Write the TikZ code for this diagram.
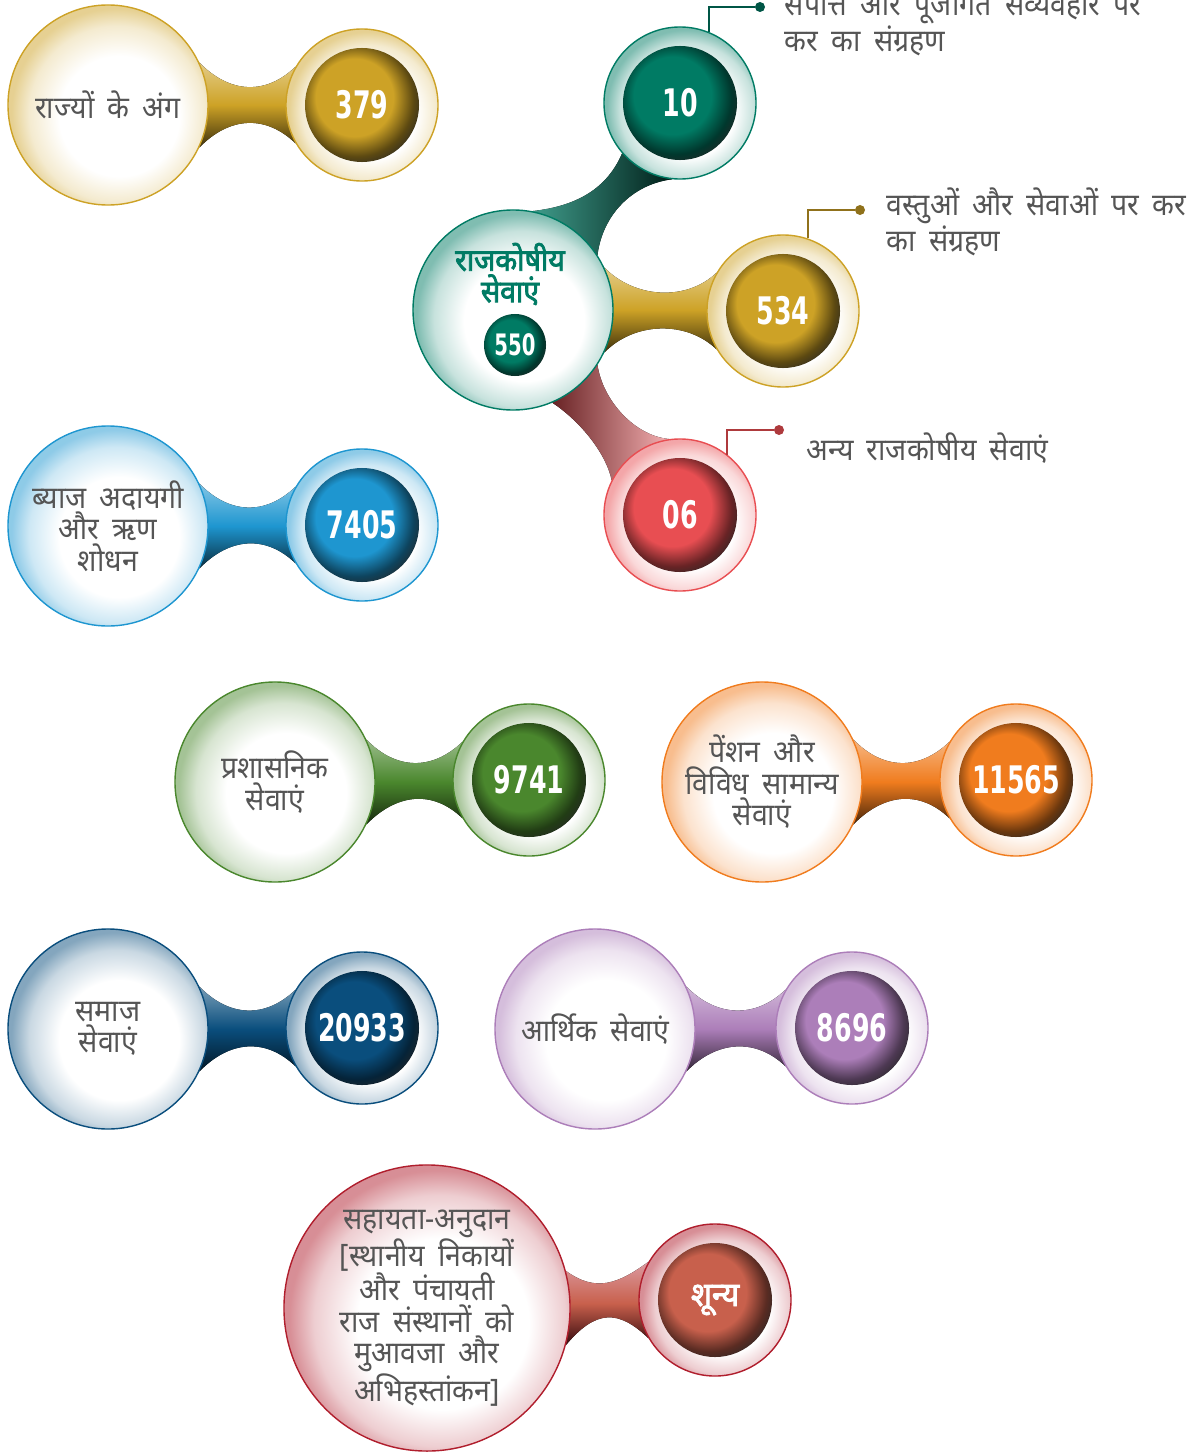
\documentclass[tikz,border=0pt]{standalone}
\usepackage{fontspec}
\usepackage{tikz}
\usetikzlibrary{calc,backgrounds}
\newfontfamily\hin[Script=Devanagari, FakeStretch=0.92, WordSpace=1.8, AutoFakeBold=2.5]{Noto Sans}
\newfontfamily\numfont[FakeStretch=0.74]{DejaVu Sans Condensed}
\definecolor{fgold}{RGB}{205,162,38}
\definecolor{fteal}{RGB}{0,123,100}
\definecolor{fred}{RGB}{232,78,82}
\definecolor{fblue}{RGB}{30,150,208}
\definecolor{fgreen}{RGB}{74,135,45}
\definecolor{forange}{RGB}{240,124,30}
\definecolor{fnavy}{RGB}{10,78,125}
\definecolor{fpurple}{RGB}{172,126,185}
\definecolor{fcrim}{RGB}{176,30,45}
\definecolor{fbrick}{RGB}{200,96,76}
\definecolor{fgrey}{RGB}{85,85,85}
\colorlet{rimcol}{black}
\colorlet{ballcol}{black}
\pgfdeclareradialshading[rimcol]{rim}{\pgfpoint{4bp}{-4bp}}{color(0bp)=(white); color(15bp)=(white); color(22bp)=(rimcol!22); color(26bp)=(rimcol!50); color(50bp)=(rimcol!50)}
\pgfdeclareradialshading[ballcol]{disc}{\pgfpoint{-5bp}{5bp}}{color(0bp)=(ballcol); color(17bp)=(ballcol); color(25bp)=(ballcol!45!black); color(31bp)=(black!85); color(50bp)=(black)}
\tikzset{
big/.style={circle, minimum size=5cm, draw=#1, line width=1pt, /utils/exec={\colorlet{rimcol}{#1}}, shade, shading=rim, text=fgrey, align=center, font=\hin\fontsize{22}{22.4}\selectfont},
ring/.style={circle, minimum size=3.8cm, draw=#1, line width=1pt, /utils/exec={\colorlet{rimcol}{#1}}, shade, shading=rim},
numball/.style={circle, minimum size=2.85cm, /utils/exec={\colorlet{ballcol}{#1}}, shade, shading=disc, text=white, font=\numfont\bfseries\fontsize{27}{27}\selectfont},
note/.style={align=left, anchor=west, text=fgrey, font=\hin\fontsize{22}{22.4}\selectfont},
tipdot/.style={circle, inner sep=0pt, minimum size=0.25cm, fill=#1}
}
\def\neck#1#2#3{\fill[top color=#3!55, bottom color=#3!30!black, middle color=#3] (#1.25) .. controls +(30,31) and +(-30,29) .. (#2.150) -- (#2.210) .. controls +(-30,-29) and +(30,-31) .. (#1.-25) -- cycle;}

\begin{document}
\begin{tikzpicture}[x=0.025cm,y=-0.025cm]
\useasboundingbox (0,0) rectangle (1203,1452);
% central group
\node (s0) at (513,310) [big=fteal] {};
\node (h0) at (510,274) [text=fteal, align=center, font=\hin\bfseries\fontsize{22}{22.4}\selectfont] {राजकोषीय\\सेवाएं};
\node (n0) at (515,345) [numball=fteal, minimum size=1.55cm, font=\numfont\bfseries\fontsize{21}{21}\selectfont] {550};
\node (o2) at (680,103) [ring=fteal] {};
\node (n2) at (680,103) [numball=fteal] {10};
\node (o3) at (783,311) [ring=fgold] {};
\node (n3) at (783,311) [numball=fgold] {534};
\node (o4) at (680,515) [ring=fred] {};
\node (n4) at (680,515) [numball=fred] {06};
\node (d2) at (760,7) [tipdot=fteal!70!black] {};
\node (d3) at (860,210) [tipdot=fgold!70!black] {};
\node (d4) at (779,430) [tipdot=fred!75!black] {};
\draw[fteal!70!black, line width=1.2pt] (o2.68) |- (d2);
\draw[fgold!70!black, line width=1.2pt] (o3.71) |- (d3);
\draw[fred!75!black, line width=1.2pt] (o4.52) |- (d4);
\node (c2) at (780,22) [note] {संपत्ति और पूंजीगत संव्यवहार पर\\कर का संग्रहण};
\node (c3) at (882,222) [note] {वस्तुओं और सेवाओं पर कर\\का संग्रहण};
\node (c4) at (802,448) [note] {अन्य राजकोषीय सेवाएं};
% pairs
\node (s1) at (108,105) [big=fgold] {राज्यों के अंग};
\node (o1) at (362,105) [ring=fgold] {};
\node (n1) at (362,105) [numball=fgold] {379};
\node (s5) at (108,526) [big=fblue] {ब्याज अदायगी\\और ऋण\\शोधन};
\node (o5) at (362,525) [ring=fblue] {};
\node (n5) at (362,525) [numball=fblue] {7405};
\node (s6) at (275,782) [big=fgreen] {प्रशासनिक\\सेवाएं};
\node (o6) at (529,780) [ring=fgreen] {};
\node (n6) at (529,780) [numball=fgreen] {9741};
\node (s7) at (762,782) [big=forange] {पेंशन और\\विविध सामान्य\\सेवाएं};
\node (o7) at (1016,780) [ring=forange] {};
\node (n7) at (1016,780) [numball=forange] {11565};
\node (s8) at (108,1029) [big=fnavy] {समाज\\सेवाएं};
\node (o8) at (362,1028) [ring=fnavy] {};
\node (n8) at (362,1028) [numball=fnavy] {20933};
\node (s9) at (595,1029) [big=fpurple] {आर्थिक सेवाएं};
\node (o9) at (852,1028) [ring=fpurple] {};
\node (n9) at (852,1028) [numball=fpurple] {8696};
\node (s10) at (427,1308) [big=fcrim, minimum size=7.15cm] {सहायता-अनुदान\\{}[स्थानीय निकायों\\और पंचायती\\राज संस्थानों को\\मुआवजा और\\अभिहस्तांकन]};
\node (o10) at (715,1300) [ring=fcrim] {};
\node (n10) at (715,1300) [numball=fbrick, font=\hin\bfseries\fontsize{24}{24}\selectfont] {शून्य};
\begin{scope}[on background layer]
\fill[left color=fteal!75, middle color=fteal, right color=fteal!25!black] (s0.79) .. controls +(45,-5) and +(-15,35) .. (o2.221) -- (o2.264) .. controls +(-40,5) and +(5,-40) .. (s0.33) -- cycle;
\neck{s0}{o3}{fgold}
\fill[left color=fred!45!black, middle color=fred, right color=fred!45] (s0.-67) .. controls +(30,20) and +(-5,-25) .. (o4.153) -- (o4.98) .. controls +(-35,-3) and +(5,35) .. (s0.-33) -- cycle;
\neck{s1}{o1}{fgold}
\neck{s5}{o5}{fblue}
\neck{s6}{o6}{fgreen}
\neck{s7}{o7}{forange}
\neck{s8}{o8}{fnavy}
\neck{s9}{o9}{fpurple}
\fill[top color=fcrim!45, bottom color=fcrim!30!black, middle color=fbrick] (s10.15) .. controls +(30,22) and +(-30,22) .. (o10.150) -- (o10.210) .. controls +(-30,-29) and +(30,-36) .. (s10.-15) -- cycle;
\end{scope}
\end{tikzpicture}
\end{document}
